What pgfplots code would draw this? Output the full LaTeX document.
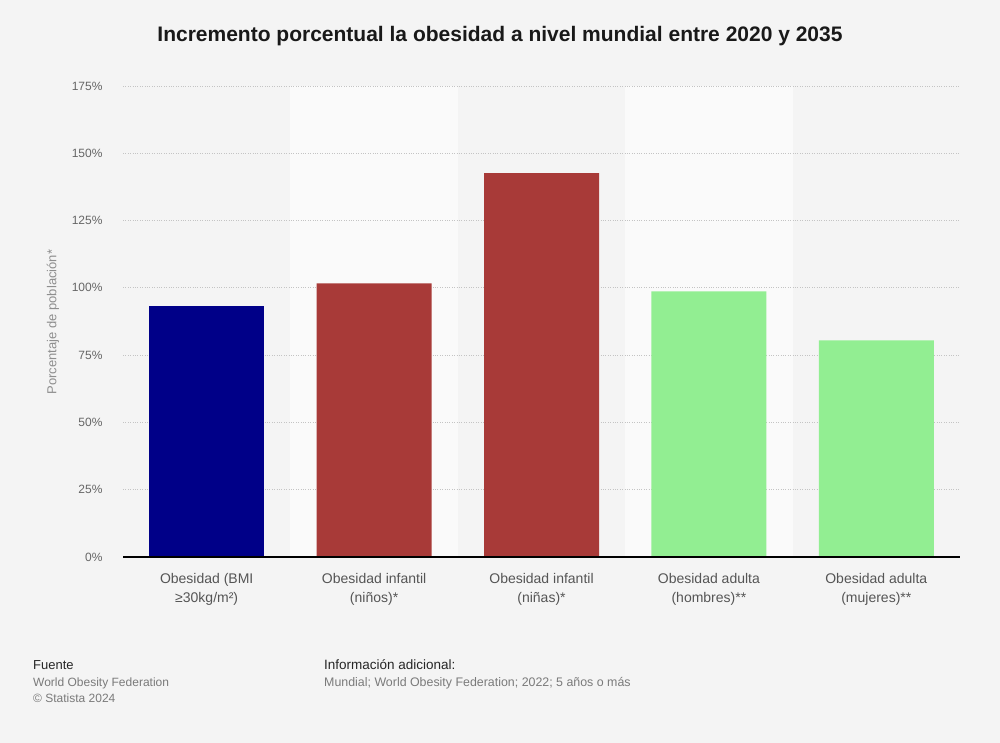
\documentclass[border=0pt]{standalone}
\usepackage{fontspec}
\setmainfont{Liberation Sans}
\usepackage{pgfplots}
\pgfplotsset{compat=1.18}
\definecolor{bg}{HTML}{F4F4F4}
\definecolor{band}{HTML}{FAFAFA}
\definecolor{navyb}{HTML}{000088}
\definecolor{brownb}{HTML}{A83A38}
\definecolor{greenb}{HTML}{92EE92}
\definecolor{ticktext}{HTML}{666666}
\definecolor{xtext}{HTML}{555555}
\definecolor{gridc}{HTML}{C4C4C4}
\definecolor{foot}{HTML}{7A7A7A}
\begin{document}
\begin{tikzpicture}[x=1pt,y=1pt]
\path (0,0) rectangle (1000,743);
\begin{axis}[
  set layers,
  at={(123pt,186pt)}, anchor=south west,
  scale only axis, width=837pt, height=471pt,
  xmin=-0.5, xmax=4.5, ymin=0, ymax=175,
  ytick={0,25,...,175},
  yticklabel={\pgfmathprintnumber{\tick}\%},
  xtick={0,1,2,3,4},
  xticklabels={{Obesidad (BMI\\≥30kg/m²)},{Obesidad infantil\\(niños)*},{Obesidad infantil\\(niñas)*},{Obesidad adulta\\(hombres)**},{Obesidad adulta\\(mujeres)**}},
  x tick label style={align=center, font=\fontsize{14}{19}\selectfont, text=xtext, yshift=-13pt},
  y tick label style={font=\fontsize{12}{14}\selectfont, text=ticktext, xshift=-17pt},
  /pgf/number format/assume math mode=true,
  major tick length=0pt,
  ymajorgrids, grid style={gridc, dotted, line width=0.8pt},
  axis line style={draw=none},
  ybar, bar width=115pt,
  clip=false,
]
\begin{pgfonlayer}{axis background}
\fill[bg] ([xshift=-123pt,yshift=-186pt]rel axis cs:0,0) rectangle ++(1000pt,743pt);
\fill[band] (axis cs:0.5,0) rectangle (axis cs:1.5,175);
\fill[band] (axis cs:2.5,0) rectangle (axis cs:3.5,175);
\end{pgfonlayer}
\addplot[fill=navyb, draw=none, bar shift=0pt] coordinates {(0,93.3)};
\addplot[fill=brownb, draw=none, bar shift=0pt] coordinates {(1,101.7) (2,142.6)};
\addplot[fill=greenb, draw=none, bar shift=0pt] coordinates {(3,98.7) (4,80.5)};
\draw[black, line width=1.2pt] (axis cs:-0.5,0) -- (axis cs:4.5,0);
\end{axis}
\node[font=\fontsize{21}{24}\selectfont\bfseries, text=black!90] at (500,707) {Incremento porcentual la obesidad a nivel mundial entre 2020 y 2035};
\node[rotate=90, font=\fontsize{13}{15}\selectfont, text=foot!85] at (53,421) {Porcentaje de población*};
\node[anchor=base west, inner sep=0, font=\fontsize{13}{15}\selectfont, text=black!85] at (33,73) {Fuente};
\node[anchor=base west, inner sep=0, font=\fontsize{12}{14}\selectfont, text=foot] at (33,56.5) {World Obesity Federation};
\node[anchor=base west, inner sep=0, font=\fontsize{12}{14}\selectfont, text=foot] at (33,40.5) {© Statista 2024};
\node[anchor=base west, inner sep=0, font=\fontsize{13.5}{15}\selectfont, text=black!85] at (324,73) {Información adicional:};
\node[anchor=base west, inner sep=0, font=\fontsize{12.4}{14}\selectfont, text=foot] at (324,56.5) {Mundial; World Obesity Federation; 2022; 5 años o más};
\end{tikzpicture}
\end{document}
